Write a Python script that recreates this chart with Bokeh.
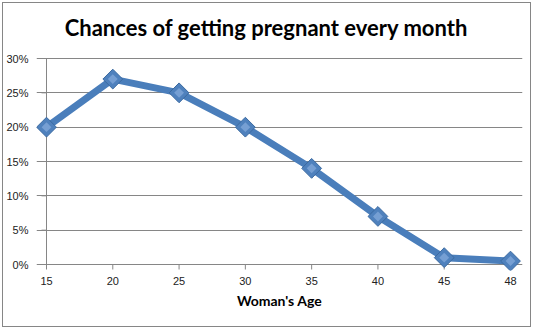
from bokeh.plotting import figure
from bokeh.models import Range1d, FixedTicker, NumeralTickFormatter, ColumnDataSource, Label
from bokeh.embed import file_html
from bokeh.resources import INLINE
import math

ages = ["15", "20", "25", "30", "35", "40", "45", "48"]
chances = [0.20, 0.27, 0.25, 0.20, 0.14, 0.07, 0.01, 0.005]
y_ticks = [0, 0.05, 0.10, 0.15, 0.20, 0.25, 0.30]
title_text = "Chances of getting pregnant every month"

idx = list(range(len(ages)))
src = ColumnDataSource(dict(x=idx, y=chances))

n = len(ages) - 1
px_per_x = 464.0 / n
px_per_y = 206.0 / 0.30
tick_len = 5

# frame spans from the top of the canvas down to just below the 0% line
p = figure(width=529, height=325, output_backend="svg", toolbar_location=None,
           x_range=Range1d(-10 / px_per_x, n + 12 / px_per_x),
           y_range=Range1d(-6 / px_per_y, 261 / px_per_y),
           min_border_left=33, min_border_right=10, min_border_top=0, min_border_bottom=58,
           styles={"border": "1px solid #868686", "margin": "2px 0 0 2px"})
p.outline_line_color = None
p.background_fill_color = "white"
p.border_fill_color = "white"

# chart title, placed 30px above the top gridline
p.add_layout(Label(x=220 / px_per_x, y=y_ticks[-1] + 31 / px_per_y, text=title_text,
                   text_font="Lato", text_font_size="22px", text_font_style="bold",
                   text_color="black", text_align="center", text_baseline="middle"))

p.xaxis.ticker = FixedTicker(ticks=idx)
p.xaxis.major_label_overrides = {i: a for i, a in enumerate(ages)}
p.yaxis.ticker = FixedTicker(ticks=y_ticks)
p.yaxis.formatter = NumeralTickFormatter(format="0%")

for ax in (p.xaxis, p.yaxis):
    ax.axis_line_color = None
    ax.major_tick_line_color = None
    ax.minor_tick_line_color = None
    ax.major_label_text_font = "Liberation Sans"
    ax.major_label_text_font_size = "11px"
    ax.major_label_text_color = "#222222"

p.xaxis.axis_label = "Woman's Age"
p.xaxis.axis_label_text_font = "Lato"
p.xaxis.axis_label_text_font_size = "14px"
p.xaxis.axis_label_text_font_style = "bold"
p.xaxis.axis_label_text_color = "black"
p.xaxis.axis_label_standoff = 4
p.xaxis.major_label_standoff = 0
p.yaxis.major_label_standoff = 2

p.xgrid.grid_line_color = None
p.ygrid.grid_line_color = "#868686"
p.ygrid.bounds = (0, n)

# axis lines and tick marks drawn inside the (padded) frame
axis_color = "#868686"
p.segment(x0=[0], y0=[0], x1=[0], y1=[y_ticks[-1]], line_color=axis_color, line_width=1)
p.segment(x0=[0], y0=[0], x1=[n], y1=[0], line_color=axis_color, line_width=1)
p.segment(x0=[-tick_len / px_per_x] * len(y_ticks), y0=y_ticks,
          x1=[0] * len(y_ticks), y1=y_ticks, line_color=axis_color, line_width=1)
p.segment(x0=idx, y0=[0] * len(idx), x1=idx, y1=[-tick_len / px_per_y] * len(idx),
          line_color=axis_color, line_width=1)

p.line("x", "y", source=src, line_width=7, line_color="#4A7EBB")
p.scatter("x", "y", source=src, marker="square", angle=math.pi / 4, size=14,
          fill_color="#4F81BD", line_color="#3B6AA0", line_width=1)
p.scatter("x", "y", source=src, marker="square", angle=math.pi / 4, size=7,
          fill_color="#7FA6D8", line_color=None, fill_alpha=0.8)

open("out.html", "w").write(file_html(p, INLINE))
